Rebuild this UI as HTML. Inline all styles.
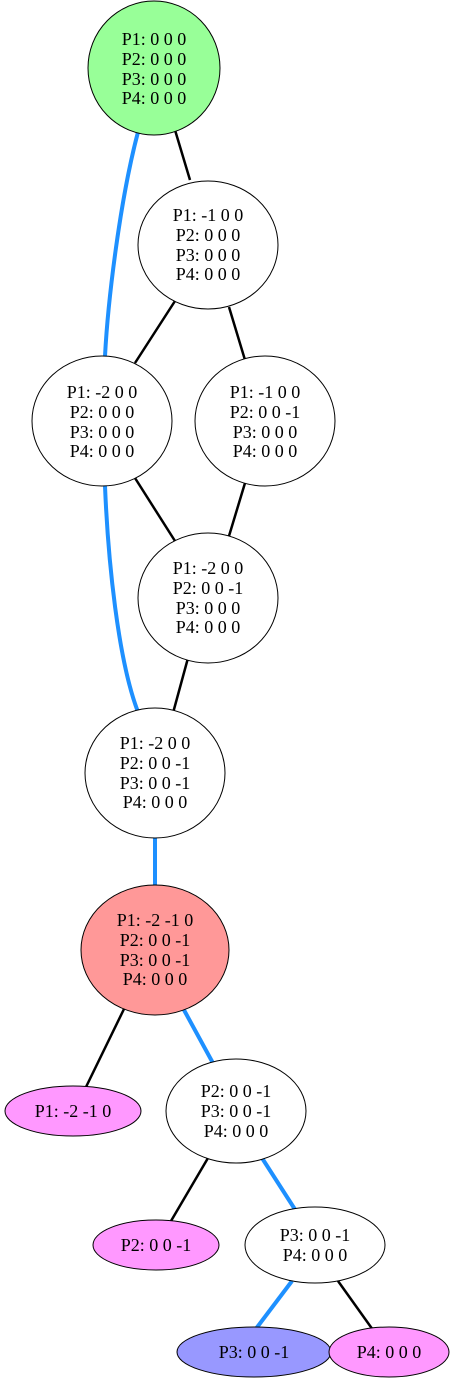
<!DOCTYPE html>
<html><head><meta charset="utf-8"><style>html,body{margin:0;padding:0;background:#fff}svg{display:block}</style></head>
<body>
<svg width="456" height="1384" viewBox="0 0 456 1384" xmlns="http://www.w3.org/2000/svg" font-family="'Liberation Serif', serif" font-size="18" text-anchor="middle">
<g fill="none" stroke-linecap="butt">
<path d="M175,130 L190,180" stroke="#000" stroke-width="2.5"/>
<path d="M138,132 C120,200 108,300 105,356" stroke="#1E90FF" stroke-width="4"/>
<path d="M175,301 L135,363" stroke="#000" stroke-width="2.5"/>
<path d="M229,307 L245,360" stroke="#000" stroke-width="2.5"/>
<path d="M135,478 L175,541" stroke="#000" stroke-width="2.5"/>
<path d="M245,483 L229,536" stroke="#000" stroke-width="2.5"/>
<path d="M105,486 C108,560 118,660 138,712" stroke="#1E90FF" stroke-width="4"/>
<path d="M188,658 L173,713" stroke="#000" stroke-width="2.5"/>
<path d="M155,838 L155,886" stroke="#1E90FF" stroke-width="4"/>
<path d="M124,1009 L86,1087" stroke="#000" stroke-width="2.5"/>
<path d="M184,1010 L214,1065" stroke="#1E90FF" stroke-width="4"/>
<path d="M208,1158 L171,1221" stroke="#000" stroke-width="2.5"/>
<path d="M262,1158 L296,1211" stroke="#1E90FF" stroke-width="4"/>
<path d="M292,1281 L255,1330" stroke="#1E90FF" stroke-width="4"/>
<path d="M338,1281 L373,1330" stroke="#000" stroke-width="2.5"/>
</g>
<g stroke="#000" stroke-width="1">
<ellipse cx="154" cy="68" rx="66" ry="67" fill="#98FF98"/>
<ellipse cx="208" cy="245" rx="70" ry="64" fill="#fff"/>
<ellipse cx="102" cy="421" rx="70" ry="65" fill="#fff"/>
<ellipse cx="265" cy="421" rx="70" ry="65" fill="#fff"/>
<ellipse cx="208" cy="598" rx="70" ry="65" fill="#fff"/>
<ellipse cx="155" cy="773" rx="70" ry="65" fill="#fff"/>
<ellipse cx="155" cy="950" rx="74" ry="65" fill="#FF9898"/>
<ellipse cx="73" cy="1111" rx="68" ry="25" fill="#FF98FF"/>
<ellipse cx="236" cy="1111" rx="70" ry="52" fill="#fff"/>
<ellipse cx="156" cy="1245" rx="63" ry="25" fill="#FF98FF"/>
<ellipse cx="315" cy="1245" rx="70" ry="38" fill="#fff"/>
<ellipse cx="254" cy="1352" rx="77" ry="25" fill="#9898FF"/>
<ellipse cx="389" cy="1352" rx="60" ry="25" fill="#FF98FF"/>
</g>
<g fill="#000">
<text x="154" y="45">P1: 0 0 0</text><text x="154" y="65">P2: 0 0 0</text><text x="154" y="85">P3: 0 0 0</text><text x="154" y="104">P4: 0 0 0</text>
<text x="208" y="221">P1: -1 0 0</text><text x="208" y="241">P2: 0 0 0</text><text x="208" y="261">P3: 0 0 0</text><text x="208" y="280">P4: 0 0 0</text>
<text x="102" y="398">P1: -2 0 0</text><text x="102" y="418">P2: 0 0 0</text><text x="102" y="438">P3: 0 0 0</text><text x="102" y="457">P4: 0 0 0</text>
<text x="265" y="398">P1: -1 0 0</text><text x="265" y="418">P2: 0 0 -1</text><text x="265" y="438">P3: 0 0 0</text><text x="265" y="457">P4: 0 0 0</text>
<text x="208" y="574">P1: -2 0 0</text><text x="208" y="594">P2: 0 0 -1</text><text x="208" y="614">P3: 0 0 0</text><text x="208" y="633">P4: 0 0 0</text>
<text x="155" y="749">P1: -2 0 0</text><text x="155" y="769">P2: 0 0 -1</text><text x="155" y="789">P3: 0 0 -1</text><text x="155" y="808">P4: 0 0 0</text>
<text x="155" y="926">P1: -2 -1 0</text><text x="155" y="946">P2: 0 0 -1</text><text x="155" y="966">P3: 0 0 -1</text><text x="155" y="985">P4: 0 0 0</text>
<text x="73" y="1117">P1: -2 -1 0</text>
<text x="236" y="1097">P2: 0 0 -1</text><text x="236" y="1117">P3: 0 0 -1</text><text x="236" y="1137">P4: 0 0 0</text>
<text x="156" y="1251">P2: 0 0 -1</text>
<text x="315" y="1241">P3: 0 0 -1</text><text x="315" y="1261">P4: 0 0 0</text>
<text x="254" y="1358">P3: 0 0 -1</text>
<text x="389" y="1358">P4: 0 0 0</text>
</g>
</svg>
</body></html>
